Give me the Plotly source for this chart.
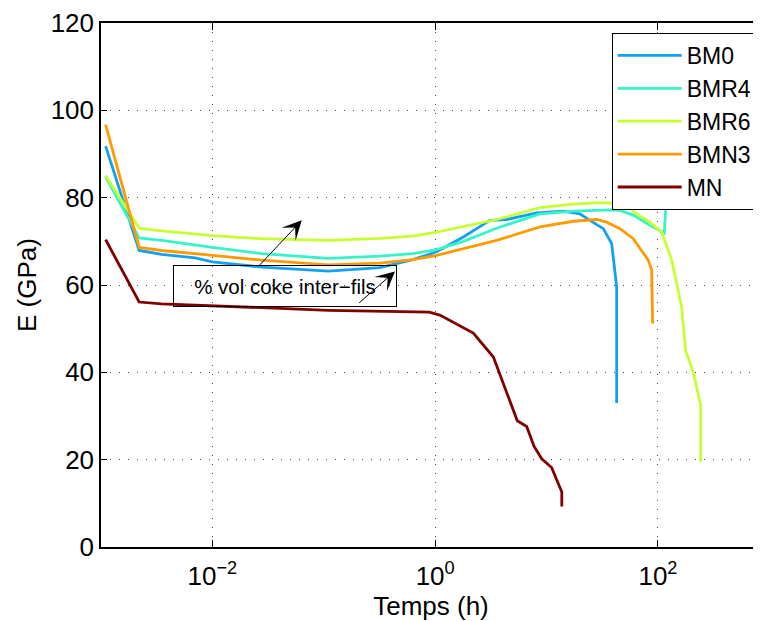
import numpy as np
import plotly.graph_objects as go

# ---------------- data ----------------
names = ["BM0", "BMR4", "BMR6", "BMN3", "MN"]
colors = ["#12A0F2", "#38F2C8", "#C8FF32", "#FF9A00", "#800000"]

t_BM0 = [0.0011, 0.0022, 0.0035, 0.007, 0.01, 0.0277, 0.11, 0.32, 0.63, 1.03,
         1.79, 3.1, 4.4, 8.15, 14.1, 19.9, 24.5, 32.3, 38.4, 42.6, 42.6, 42.6]
E_BM0 = [91.8, 67.9, 67.0, 66.2, 65.3, 64.1, 63.2, 64.0, 65.8, 67.6,
         71.0, 74.8, 75.0, 76.5, 76.9, 76.3, 74.8, 72.9, 69.5, 59.5, 48.1, 33.0]

t_BMR4 = [0.0011, 0.0022, 0.0035, 0.007, 0.01, 0.0277, 0.11, 0.32, 0.63, 1.03,
          1.79, 3.56, 8.73, 17.4, 37.1, 45.6, 60.0, 84.8, 100.0, 114.0, 118.0, 119.0]
E_BMR4 = [84.8, 70.8, 70.2, 69.1, 68.6, 67.2, 66.1, 66.6, 67.2, 68.1,
          70.0, 73.0, 76.3, 76.9, 77.2, 77.1, 76.0, 73.7, 72.7, 71.9, 78.6, 95.0]

t_BMR6 = [0.0011, 0.0022, 0.0035, 0.007, 0.01, 0.0277, 0.11, 0.32, 0.63, 1.03,
          3.56, 8.73, 17.4, 26.3, 37.1, 52.4, 64.4, 84.8, 100.6, 108.0, 133.0,
          163.0, 177.0, 207.0, 242.0, 242.0]
E_BMR6 = [85.1, 73.0, 72.4, 71.6, 71.3, 70.6, 70.2, 70.7, 71.2, 72.1,
          75.0, 77.7, 78.5, 78.8, 78.8, 78.2, 76.3, 74.4, 72.9, 72.1, 65.7,
          55.0, 45.0, 40.1, 32.4, 19.5]

t_BMN3 = [0.0011, 0.0022, 0.0035, 0.007, 0.01, 0.0277, 0.11, 0.32, 0.63, 1.03,
          3.56, 8.73, 17.4, 28.2, 34.6, 45.6, 60.0, 68.9, 81.8, 87.8, 89.6]
E_BMN3 = [96.7, 68.6, 67.9, 67.2, 66.8, 65.7, 64.6, 65.0, 65.8, 66.8,
          70.2, 73.3, 74.6, 75.0, 74.4, 72.9, 70.6, 68.3, 65.7, 63.4, 51.2]

t_MN = [0.0011, 0.0022, 0.0035, 0.01, 0.0277, 0.11, 0.32, 0.885, 1.10, 2.2,
        3.33, 5.46, 6.63, 7.71, 9.04, 11.1, 13.7, 13.7]
E_MN = [70.4, 56.1, 55.7, 55.3, 54.8, 54.2, 54.0, 53.8, 53.1, 49.0,
        43.5, 28.9, 27.6, 23.1, 20.2, 18.2, 12.6, 9.3]

series_t = [t_BM0, t_BMR4, t_BMR6, t_BMN3, t_MN]
series_E = [E_BM0, E_BMR4, E_BMR6, E_BMN3, E_MN]

x_ticks = [0.01, 1, 100]
x_ticktext = ["10<sup>\u22122</sup>", "10<sup>0</sup>", "10<sup>2</sup>"]
y_ticks = [0, 20, 40, 60, 80, 100, 120]

annot_text = "% vol coke inter\u2212fils"
annot_pos = (0.0445, 59.7)          # centre of the text box (t, E)
arrow1 = ((0.0253, 64.0), (0.0634, 74.8))   # (tail, head)
arrow2 = ((0.2014, 55.6), (0.4355, 63.1))

# ---------------- figure ----------------
# the page body has an 8 px margin, so the figure is 8 px smaller on each side
FONT = "Liberation Sans, Arial, Helvetica, sans-serif"
fig = go.Figure()
for n, c, t, e in zip(names, colors, series_t, series_E):
    fig.add_trace(go.Scatter(x=t, y=e, mode="lines", name=n,
                             line=dict(color=c, width=2.8)))

grid_dash = "1px,8px"
fig.update_layout(
    width=753, height=613,
    margin=dict(l=93, r=0, t=15, b=74, autoexpand=False),
    paper_bgcolor="white", plot_bgcolor="white",
    font=dict(family=FONT, size=26, color="black"),
    showlegend=True,
    legend=dict(x=0.995, y=0.981, xanchor="right", yanchor="top",
                bgcolor="white", bordercolor="black", borderwidth=1,
                font=dict(size=23), itemwidth=64, tracegroupgap=0),
)
fig.update_xaxes(
    type="log", range=[-3, 2.925],
    tickmode="array", tickvals=x_ticks, ticktext=x_ticktext,
    ticks="inside", ticklen=7, tickwidth=1, tickcolor="black",
    ticklabelstandoff=5,
    showline=True, linecolor="black", linewidth=1.5, mirror="ticks",
    showgrid=True, gridcolor="#444444", gridwidth=1, griddash=grid_dash,
    zeroline=False, automargin=False,
    title=dict(text="Temps (h)", font=dict(size=26), standoff=10),
)
fig.update_yaxes(
    range=[0, 120], tickmode="array", tickvals=y_ticks,
    ticks="inside", ticklen=6, tickwidth=1, tickcolor="black",
    showline=True, linecolor="black", linewidth=1.5, mirror=False,
    showgrid=True, gridcolor="#444444", gridwidth=1, griddash=grid_dash,
    zeroline=False, automargin=False,
    title=dict(text="E (GPa)", font=dict(size=26), standoff=7),
)

fig.add_annotation(
    x=np.log10(annot_pos[0]), y=annot_pos[1], xref="x", yref="y",
    text=annot_text, showarrow=False, font=dict(size=20.5, family=FONT),
    bordercolor="black", borderwidth=1, borderpad=2,
    width=218, height=36, align="center", valign="middle",
)
for (tail, head) in (arrow1, arrow2):
    fig.add_annotation(
        x=np.log10(head[0]), y=head[1], xref="x", yref="y",
        ax=np.log10(tail[0]), ay=tail[1], axref="x", ayref="y",
        text="", showarrow=True, arrowhead=3, arrowsize=3.2,
        arrowwidth=1, arrowcolor="black",
    )

fig.write_html("out.html")
